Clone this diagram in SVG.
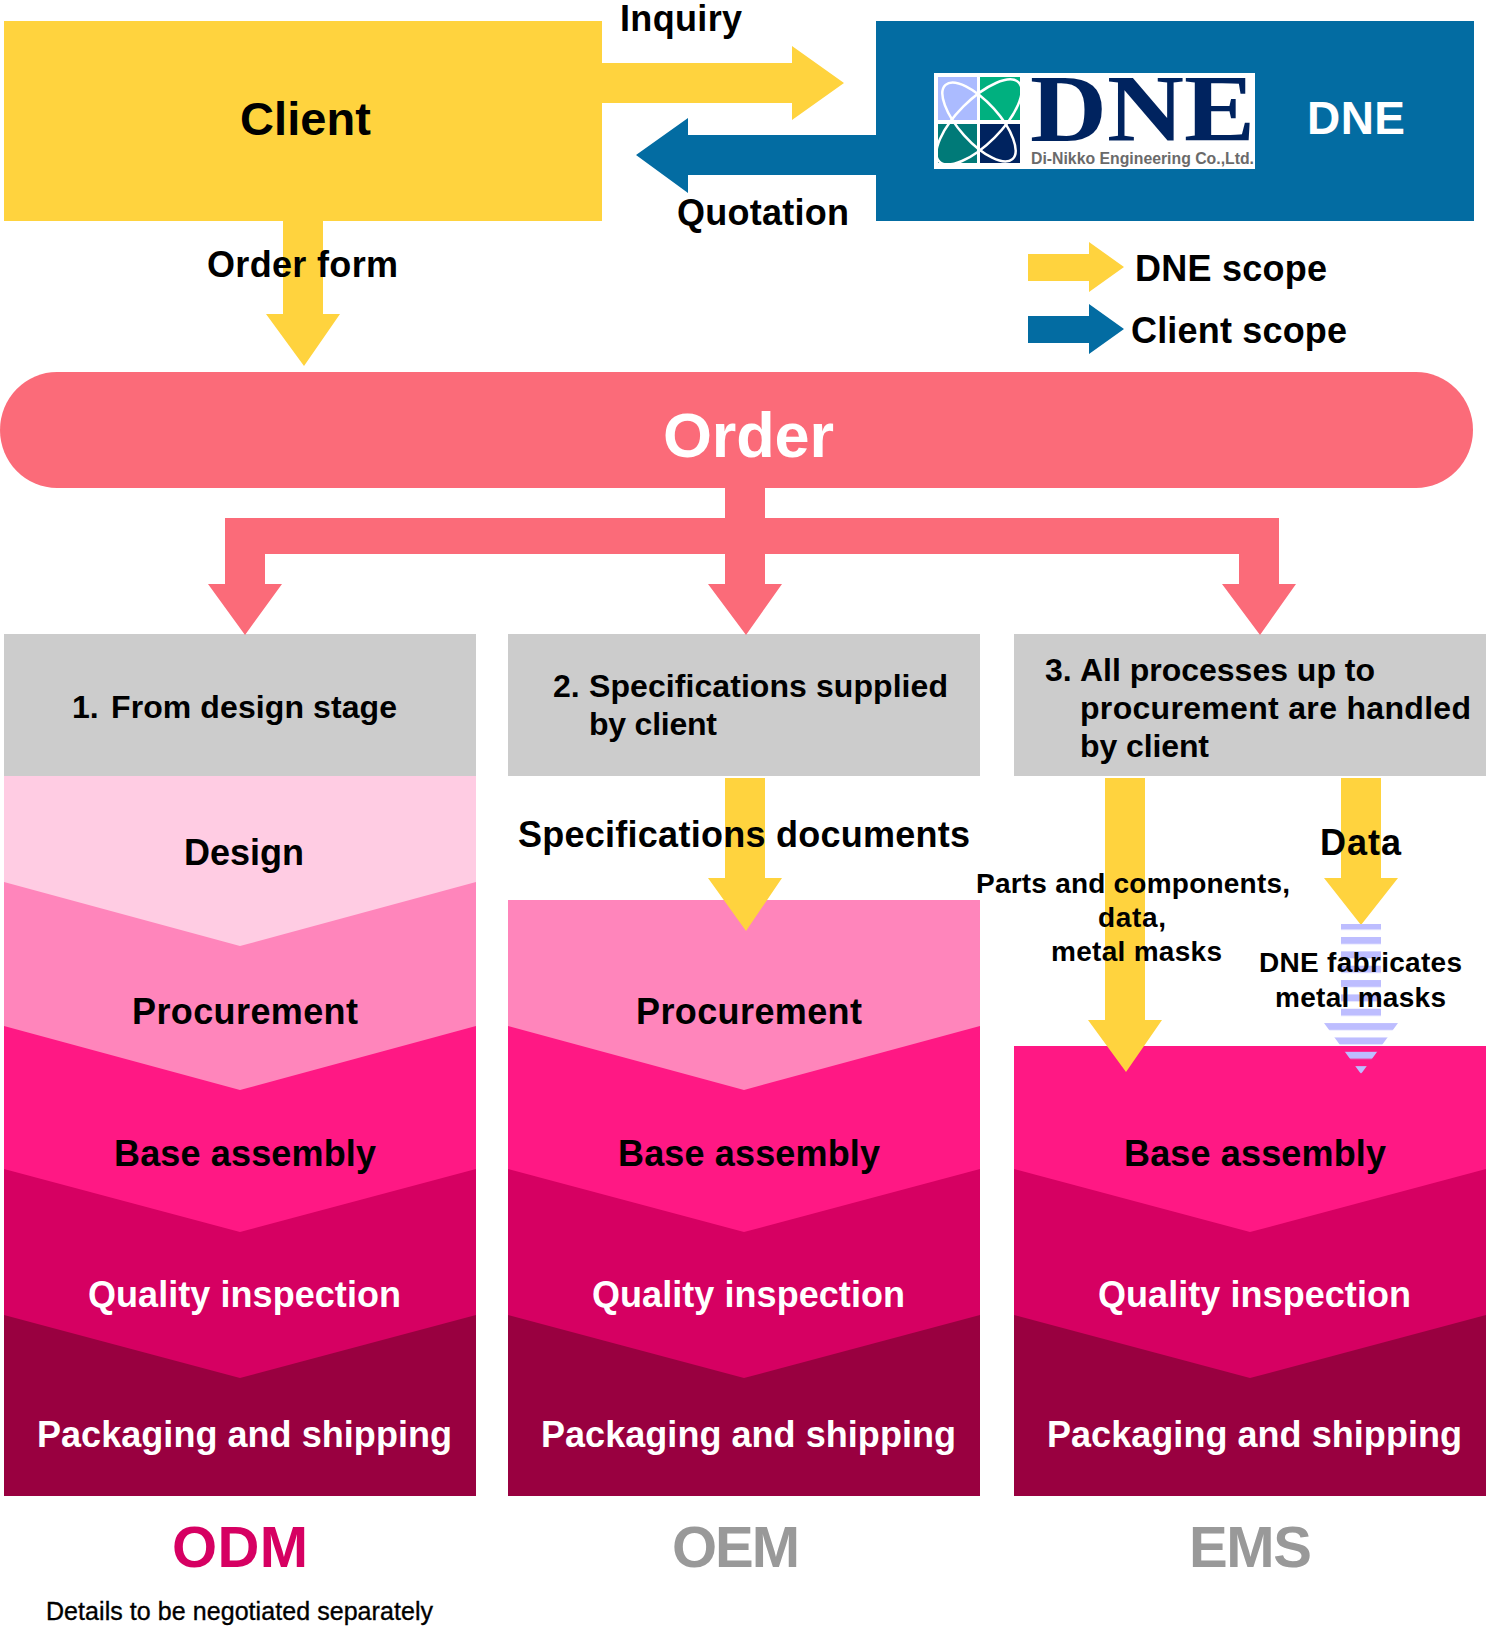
<svg xmlns="http://www.w3.org/2000/svg" width="1486" height="1626" viewBox="0 0 1486 1626">
  <style>
    text { font-family: "Liberation Sans", Arial, sans-serif; font-weight: 700; fill: #000; }
    .t36 { font-size: 36px; }
    .t32 { font-size: 32px; }
    .t28 { font-size: 28px; }
    .w { fill: #fff; }
    .yellow { fill: #FFD33E; }
    .blue { fill: #036CA2; }
    .coral { fill: #FB6B79; }
    .head { fill: #CCCCCC; }
    .s1 { fill: #FFCCE3; }
    .s2 { fill: #FF85BB; }
    .s3 { fill: #FF1884; }
    .s4 { fill: #D60062; }
    .s5 { fill: #990040; }
    .tag { font-size: 58px; }
    .grey { fill: #999999; }
  </style>
  <defs>
    <pattern id="stripes" patternUnits="userSpaceOnUse" x="0" y="922.65" width="10" height="14.35">
      <rect width="10" height="7" fill="#BDBDFF"/>
    </pattern>
    <!-- Stage layers, stacked from the bottom so each chevron overlaps the next -->
    <rect id="layer-packaging" class="s5" x="4" y="1315" width="472" height="181"/>
    <polygon id="layer-quality" class="s4" points="4,1169 476,1169 476,1315 240,1378 4,1315"/>
    <polygon id="layer-base" class="s3" points="4,1026 476,1026 476,1169 240,1232 4,1169"/>
  </defs>

  <g id="client">
    <rect class="yellow" x="4" y="21" width="598" height="200"/>
    <text x="240" y="135" font-size="47" textLength="131">Client</text>
  </g>

  <g id="dne">
    <rect class="blue" x="876" y="21" width="598" height="200"/>
    <g id="dne-logo">
      <rect x="934" y="73" width="321" height="96" fill="#fff"/>
      <rect x="938" y="77" width="39" height="43" fill="#ABBBFF"/>
      <rect x="980" y="77" width="40" height="43" fill="#00B07F"/>
      <rect x="938" y="124" width="39" height="39" fill="#007A78"/>
      <rect x="980" y="124" width="40" height="39" fill="#00235F"/>
      <ellipse cx="979" cy="122" rx="50" ry="20" fill="none" stroke="#fff" stroke-width="2.5" transform="rotate(48 979 122)"/>
      <ellipse cx="979" cy="122" rx="56" ry="22" fill="none" stroke="#fff" stroke-width="2.5" transform="rotate(-45 979 122)"/>
      <text x="1030" y="141" font-size="95" textLength="225" lengthAdjust="spacingAndGlyphs" style="font-family:'Liberation Serif',serif;fill:#00235F">DNE</text>
      <text x="1031" y="164" font-size="16" textLength="223" lengthAdjust="spacingAndGlyphs" style="fill:#6A6A6A">Di-Nikko Engineering Co.,Ltd.</text>
    </g>
    <text class="w" x="1307" y="134" font-size="46" textLength="98">DNE</text>
  </g>

  <g id="order">
    <rect class="coral" x="0" y="372" width="1473" height="116" rx="57" ry="58"/>
    <text class="w" x="663" y="457" font-size="63" textLength="171">Order</text>
  </g>

  <g id="column-odm">
    <rect class="head" x="4" y="634" width="472" height="142"/>
    <use href="#layer-packaging"/>
    <use href="#layer-quality"/>
    <use href="#layer-base"/>
    <polygon class="s2" points="4,882 476,882 476,1026 240,1090 4,1026"/>
    <polygon class="s1" points="4,776 476,776 476,882 240,946 4,882"/>
  </g>
  <g id="column-oem" transform="translate(504 0)">
    <rect class="head" x="4" y="634" width="472" height="142"/>
    <use href="#layer-packaging"/>
    <use href="#layer-quality"/>
    <use href="#layer-base"/>
    <polygon class="s2" points="4,900 476,900 476,1026 240,1090 4,1026"/>
  </g>
  <g id="column-ems" transform="translate(1010 0)">
    <rect class="head" x="4" y="634" width="472" height="142"/>
    <use href="#layer-packaging"/>
    <use href="#layer-quality"/>
    <polygon class="s3" points="4,1046 476,1046 476,1169 240,1232 4,1169"/>
  </g>

  <g id="connectors">
    <polygon class="yellow" points="602,63 792,63 792,46 844,83 792,120 792,103 602,103"/>
    <polygon class="blue" points="876,135 688,135 688,118 636,155 688,193 688,175 876,175"/>
    <polygon class="yellow" points="283,221 323,221 323,314 340,314 304,366 266,314 283,314"/>
    <polygon class="coral" points="725,488 765,488 765,518 1279,518 1279,584 1296,584 1260,635 1222,584 1239,584 1239,554 765,554 765,584 782,584 746,635 708,584 725,584 725,554 265,554 265,584 282,584 245,635 208,584 225,584 225,518 725,518"/>
    <polygon class="yellow" points="725,778 765,778 765,878 782,878 746,931 708,878 725,878"/>
    <polygon class="yellow" points="1105,778 1145,778 1145,1020 1162,1020 1126,1072 1088,1020 1105,1020"/>
    <polygon class="yellow" points="1341,778 1381,778 1381,878 1398,878 1361,925 1324,878 1341,878"/>
    <polygon fill="url(#stripes)" points="1341,924 1381,924 1381,1023 1398,1023 1361,1074 1324,1023 1341,1023"/>
  </g>

  <g id="legend">
    <polygon class="yellow" points="1028,254 1089,254 1089,242 1124,267 1089,292 1089,281 1028,281"/>
    <text class="t36" x="1135" y="281" textLength="192">DNE scope</text>
    <polygon class="blue" points="1028,316 1089,316 1089,304 1124,329 1089,354 1089,343 1028,343"/>
    <text class="t36" x="1131" y="343" textLength="216">Client scope</text>
  </g>

  <g id="labels">
    <text class="t36" x="620" y="31" textLength="122">Inquiry</text>
    <text class="t36" x="677" y="225" textLength="172">Quotation</text>
    <text class="t36" x="207" y="277" textLength="191">Order form</text>

    <text class="t32" x="72" y="718">1.</text>
    <text class="t32" x="111" y="718" textLength="286">From design stage</text>
    <text class="t32" x="553" y="697">2.</text>
    <text class="t32" x="589" y="697" textLength="359">Specifications supplied</text>
    <text class="t32" x="589" y="735" textLength="128">by client</text>
    <text class="t32" x="1045" y="681">3.</text>
    <text class="t32" x="1080" y="681" textLength="295">All processes up to</text>
    <text class="t32" x="1080" y="719" textLength="391">procurement are handled</text>
    <text class="t32" x="1080" y="757" textLength="129">by client</text>

    <text class="t36" x="184" y="865" textLength="120">Design</text>
    <text class="t36" x="132" y="1024" textLength="226">Procurement</text>
    <text class="t36" x="114" y="1166" textLength="262">Base assembly</text>
    <text class="t36 w" x="88" y="1307" textLength="313">Quality inspection</text>
    <text class="t36 w" x="37" y="1447" textLength="415">Packaging and shipping</text>

    <text class="t36" x="518" y="847" textLength="452">Specifications documents</text>
    <text class="t36" x="636" y="1024" textLength="226">Procurement</text>
    <text class="t36" x="618" y="1166" textLength="262">Base assembly</text>
    <text class="t36 w" x="592" y="1307" textLength="313">Quality inspection</text>
    <text class="t36 w" x="541" y="1447" textLength="415">Packaging and shipping</text>

    <text class="t36" x="1320" y="855" textLength="81">Data</text>
    <text class="t28" x="976" y="893" textLength="314">Parts and components,</text>
    <text class="t28" x="1098" y="927" textLength="68">data,</text>
    <text class="t28" x="1051" y="961" textLength="171">metal masks</text>
    <text class="t28" x="1259" y="972" textLength="203">DNE fabricates</text>
    <text class="t28" x="1275" y="1007" textLength="171">metal masks</text>
    <text class="t36" x="1124" y="1166" textLength="262">Base assembly</text>
    <text class="t36 w" x="1098" y="1307" textLength="313">Quality inspection</text>
    <text class="t36 w" x="1047" y="1447" textLength="415">Packaging and shipping</text>

    <text class="tag" x="172" y="1567" textLength="136" style="fill:#D60062">ODM</text>
    <text class="tag grey" x="672" y="1567" textLength="128">OEM</text>
    <text class="tag grey" x="1189" y="1567" textLength="123">EMS</text>
    <text x="46" y="1620" font-size="25" textLength="387" style="font-weight:400;stroke:#000;stroke-width:.35">Details to be negotiated separately</text>
  </g>
</svg>
